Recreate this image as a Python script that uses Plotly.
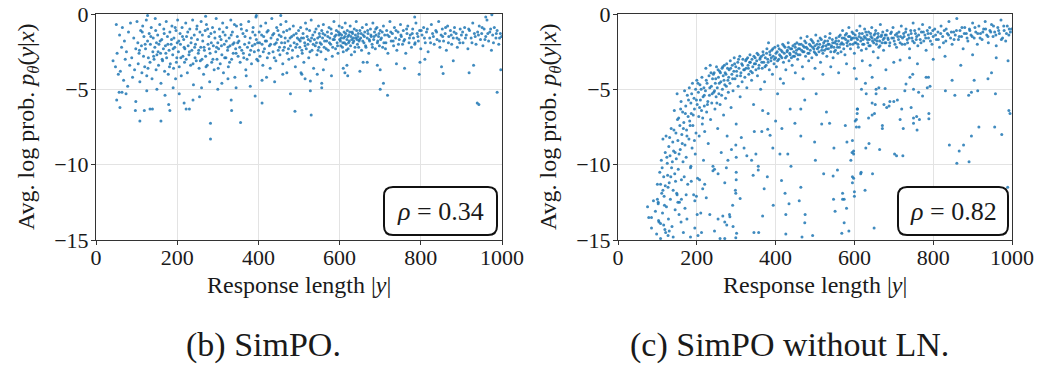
import plotly.graph_objects as go

W, H = 1060, 367

x_ticks = [0, 200, 400, 600, 800, 1000]
y_ticks = [0, -5, -10, -15]
captions = ["(b) SimPO.", "(c) SimPO without LN."]
rho_values = ["0.34", "0.82"]

# ---- Panel (b) SimPO: main band (length, avg log prob) ----
simpo_band = [
(42,-3.1),(48,-3.5),(50,-0.7),(52,-2.6),(55,-4.0),(58,-1.4),(60,-3.8),(63,-2.2),(65,-0.9),(68,-4.4),(70,-1.8),(72,-3.0),(75,-2.5),(78,-4.8),(80,-1.2),(83,-3.4),(85,-0.6),(88,-2.9),(90,-4.2),(93,-1.6),(95,-3.7),(98,-2.3),
(101,-0.5),(103,-1.9),(104,-3.3),(106,-2.6),(108,-4.5),(110,-1.1),(112,-2.1),(113,-3.9),(115,-0.8),(117,-2.8),(118,-1.5),(120,-3.5),(122,-2.3),(124,-0.4),(125,-4.1),(127,-1.8),(129,-2.9),(131,-1.3),(133,-3.2),(134,-2.0),(136,-0.9),(138,-4.3),(140,-2.5),(141,-1.6),(143,-3.0),(145,-2.2),(146,-0.3),(148,-3.7),(149,-1.9),(150,-2.7),
(152,-1.4),(154,-3.4),(155,-2.0),(157,-0.7),(159,-2.6),(160,-4.6),(162,-1.7),(164,-3.1),(166,-2.3),(167,-1.0),(169,-3.8),(171,-2.1),(173,-0.5),(174,-2.9),(176,-1.5),(178,-4.0),(180,-2.4),(182,-1.2),(183,-3.3),(185,-2.0),(187,-0.8),(189,-2.7),(191,-3.6),(192,-1.6),(194,-2.2),(196,-4.3),(197,-1.1),(199,-2.9),(200,-1.9),(201,-0.4),
(203,-2.5),(205,-3.5),(207,-1.3),(208,-2.0),(210,-4.1),(212,-0.9),(214,-2.8),(216,-1.7),(218,-3.2),(219,-2.3),(221,-0.6),(223,-1.5),(225,-3.9),(227,-2.1),(229,-2.7),(231,-1.0),(233,-3.4),(234,-1.9),(236,-2.4),(238,-0.4),(240,-4.7),(242,-1.4),(244,-2.9),(245,-2.0),(247,-3.1),(249,-0.8),(250,-1.7),
(252,-2.6),(254,-3.6),(256,-1.2),(258,-2.2),(259,-0.5),(261,-3.0),(263,-1.8),(265,-4.0),(267,-2.4),(269,-1.1),(270,-2.8),(272,-0.7),(274,-3.4),(276,-2.0),(278,-1.5),(280,-4.5),(281,-2.6),(283,-1.3),(285,-3.2),(287,-0.9),(289,-2.1),(291,-3.7),(293,-1.6),(295,-2.5),(296,-0.3),(298,-3.0),(300,-1.9),
(302,-2.3),(304,-1.0),(306,-3.3),(308,-1.7),(310,-2.7),(312,-0.6),(314,-3.9),(316,-2.0),(318,-1.4),(320,-2.9),(322,-0.9),(324,-2.4),(326,-3.5),(328,-1.6),(330,-2.1),(332,-0.4),(334,-3.0),(336,-1.2),(338,-2.6),(340,-1.9),(342,-4.2),(344,-2.3),(346,-0.8),(348,-1.5),(350,-2.8),
(352,-1.8),(355,-3.2),(357,-0.7),(359,-2.4),(362,-1.3),(364,-2.9),(366,-2.0),(369,-3.7),(371,-1.1),(373,-2.2),(376,-0.5),(378,-2.7),(380,-1.6),(383,-3.3),(385,-2.1),(387,-0.9),(390,-2.5),(392,-1.4),(394,-0.2),(396,-3.0),(398,-1.9),(400,-2.4),
(402,-1.2),(404,-2.8),(406,-0.8),(409,-2.0),(411,-3.4),(413,-1.5),(415,-2.3),(418,-0.6),(420,-1.8),(422,-2.9),(424,-1.1),(427,-2.1),(429,-3.6),(431,-1.6),(433,-0.3),(436,-2.5),(438,-1.3),(440,-2.0),(443,-3.1),(445,-0.9),(447,-1.7),(449,-2.4),
(451,-1.4),(453,-2.7),(455,-0.7),(457,-1.9),(460,-3.3),(462,-1.2),(464,-2.2),(466,-1.6),(468,-0.5),(471,-2.6),(473,-1.8),(475,-3.0),(477,-1.0),(479,-2.1),(482,-1.5),(484,-2.4),(486,-0.8),(488,-1.9),(491,-3.5),(493,-1.3),(495,-2.0),(497,-2.8),(499,-1.1),(500,-1.7),
(502,-2.2),(504,-0.9),(506,-1.6),(508,-2.6),(510,-1.3),(512,-3.2),(514,-1.9),(516,-0.6),(518,-2.3),(520,-1.5),(522,-2.0),(524,-2.9),(526,-1.1),(528,-1.8),(530,-0.4),(532,-2.4),(534,-1.4),(536,-3.6),(538,-1.7),(540,-2.1),(542,-1.0),(544,-2.7),(546,-1.6),(548,-0.8),(549,-2.2),(550,-1.3),
(552,-1.9),(554,-2.5),(556,-1.1),(558,-1.6),(560,-0.7),(562,-2.2),(564,-1.4),(566,-3.0),(568,-1.8),(570,-1.2),(572,-2.4),(574,-0.9),(576,-1.6),(578,-2.0),(580,-1.3),(582,-2.8),(584,-1.7),(586,-0.5),(588,-1.5),(590,-2.3),(592,-1.1),(594,-1.9),(596,-2.6),(598,-1.4),(599,-0.8),(600,-1.7),
(601,-1.3),(603,-2.1),(604,-1.6),(606,-0.9),(608,-1.9),(609,-2.5),(611,-1.2),(613,-1.5),(614,-0.6),(616,-2.0),(618,-1.7),(619,-1.1),(621,-2.3),(623,-1.4),(624,-1.8),(626,-0.8),(628,-1.5),(629,-2.7),(631,-1.2),(633,-1.9),(634,-1.6),(636,-1.0),(638,-2.2),(639,-1.4),(641,-0.5),(643,-1.7),(644,-2.0),(646,-1.3),(648,-1.8),(650,-1.1),
(652,-1.6),(654,-2.4),(656,-0.9),(658,-1.4),(660,-1.9),(662,-1.2),(664,-2.1),(666,-0.7),(668,-1.6),(670,-1.3),(672,-2.6),(674,-1.8),(676,-1.0),(678,-1.5),(680,-2.0),(682,-0.6),(684,-1.7),(686,-1.2),(688,-2.3),(690,-1.4),(692,-0.9),(694,-1.8),(696,-1.5),(698,-2.1),(700,-1.1),
(703,-1.6),(706,-2.2),(708,-0.8),(711,-1.4),(714,-1.9),(716,-1.1),(719,-2.6),(722,-1.5),(724,-0.5),(727,-1.8),(730,-1.3),(733,-2.1),(735,-0.9),(738,-1.6),(741,-2.4),(744,-1.2),(747,-1.7),(750,-0.7),
(752,-1.5),(755,-2.0),(757,-1.1),(760,-1.7),(763,-2.6),(766,-1.3),(768,-0.8),(771,-1.9),(774,-1.4),(777,-2.2),(780,-1.0),(782,-1.6),(785,-2.0),(788,-0.6),(791,-1.3),(794,-1.8),(797,-1.1),(800,-2.3),
(803,-1.4),(807,-0.9),(811,-1.9),(814,-1.2),(818,-2.5),(822,-1.6),(826,-0.7),(829,-1.3),(833,-2.0),(837,-1.1),(840,-1.7),(844,-0.5),(847,-2.2),(850,-1.4),
(853,-1.0),(856,-1.8),(860,-1.3),(863,-2.4),(866,-0.8),(869,-1.5),(873,-1.1),(876,-2.0),(880,-1.6),(883,-0.9),(887,-1.3),(890,-2.2),(894,-1.7),(897,-1.0),(900,-1.4),
(904,-1.9),(908,-0.9),(912,-1.4),(916,-2.3),(920,-1.1),(924,-1.6),(928,-0.6),(932,-1.3),(936,-2.0),(940,-1.2),(944,-0.8),(947,-1.7),(950,-1.3),
(953,-2.1),(956,-1.0),(960,-1.5),(963,-0.4),(967,-1.8),(970,-1.2),(974,-2.4),(977,-1.4),(981,-0.9),(985,-1.6),(988,-1.1),(992,-2.0),(996,-1.3),(999,-1.5),
(127,-0.1),(270,-0.15),(395,-0.1),(455,-0.1),(785,-0.2),(975,-0.05),(960,-0.2),
]

# extra points of the dense SimPO band (irregular positions)
simpo_band_extra = [
(107,-2.4),(114,-1.2),(121,-2.0),(128,-3.6),(135,-1.5),(142,-2.8),(147,-1.1),(153,-2.5),(158,-1.8),(163,-3.0),(168,-1.3),(172,-2.6),(177,-2.0),(181,-3.5),(186,-1.7),(190,-2.3),(195,-0.9),(198,-3.2),(204,-1.8),(209,-2.9),(213,-1.5),(217,-2.2),(222,-3.0),(226,-1.2),(230,-2.5),(235,-1.6),(239,-3.3),(243,-2.2),(248,-1.0),(253,-2.4),(257,-3.1),(262,-1.4),(266,-2.2),(271,-3.5),(275,-1.0),(279,-2.3),(284,-1.9),(288,-3.0),(292,-1.2),(297,-2.2),(301,-3.6),(305,-1.5),(309,-2.1),(313,-1.2),(317,-2.9),(321,-1.8),(325,-2.2),(329,-3.2),(333,-1.4),(337,-2.0),(341,-0.7),(345,-2.6),(349,-1.9),
(354,-2.2),(358,-1.0),(363,-2.6),(367,-1.5),(372,-3.0),(377,-1.9),(381,-2.4),(386,-1.2),(391,-2.0),(395,-1.7),(399,-3.1),(403,-1.9),(408,-1.4),(412,-2.5),(417,-1.8),(421,-1.2),(426,-2.6),(430,-2.0),(435,-1.4),(439,-2.9),(444,-1.9),(448,-1.1),(452,-2.2),(456,-1.5),(461,-2.4),(465,-1.9),(470,-1.1),(474,-2.3),(478,-1.6),(483,-2.9),(487,-1.4),(492,-2.2),(496,-1.6),
(503,-1.8),(507,-2.4),(511,-1.6),(515,-2.1),(519,-1.0),(523,-1.7),(527,-2.5),(531,-1.6),(535,-2.0),(539,-1.2),(543,-1.9),(547,-2.4),(551,-1.5),(555,-2.0),(559,-1.3),(563,-1.8),(567,-2.3),(571,-1.5),(575,-1.9),(579,-1.0),(583,-2.2),(587,-1.7),(591,-1.4),(595,-2.1),(597,-1.2),(602,-1.8),(605,-1.4),(607,-2.2),(610,-1.6),(612,-1.9),(615,-1.3),(617,-2.4),(620,-1.5),(622,-1.9),(625,-1.2),(627,-2.1),(630,-1.7),(632,-1.3),(635,-1.8),(637,-2.5),(640,-1.6),(642,-1.1),(645,-1.5),(647,-2.2),(649,-1.7),(653,-1.3),(657,-1.8),(661,-1.5),(665,-2.2),(669,-1.1),(673,-1.7),(677,-1.4),(681,-2.2),(685,-1.5),(689,-1.0),(693,-1.9),(697,-1.3),(701,-1.7),(705,-1.2),(709,-1.9),(713,-2.3),(718,-1.4),
(726,-1.2),(732,-1.8),(739,-1.1),(745,-2.0),(751,-1.4),(758,-1.8),(765,-1.0),(772,-1.6),(779,-1.3),(786,-1.9),(793,-1.5),(801,-1.1),(809,-1.6),(816,-1.0),(824,-1.9),(831,-1.5),(839,-1.2),(846,-1.8),(854,-1.5),(861,-0.9),(868,-1.9),(875,-1.4),(882,-1.2),(889,-1.6),(896,-1.9),(903,-1.2),(910,-1.6),(918,-1.0),(926,-1.9),(934,-1.5),(942,-1.4),(951,-0.9),(958,-1.7),(965,-1.3),(972,-1.0),(979,-1.9),(986,-1.3),(994,-1.6),
]

# ---- Panel (b) SimPO: scattered low-probability responses ----
simpo_tail = [
(51,-5.7),(59,-6.2),(108,-7.1),(160,-7.1),(282,-7.25),(282,-8.3),(356,-7.2),(334,-6.4),(97,-6.4),(119,-6.4),(133,-6.3),(139,-6.3),
(182,-6.4),(179,-6.0),(222,-6.3),(230,-6.3),(217,-5.9),(239,-5.7),(333,-5.7),(392,-5.45),(409,-5.9),(490,-6.45),(479,-5.3),(409,-4.4),
(57,-5.2),(64,-5.2),(98,-5.8),(74,-5.3),(530,-6.7),(528,-5.1),(556,-4.9),(556,-4.6),(528,-4.45),(700,-5.0),(708,-4.6),(718,-5.4),
(939,-5.9),(943,-6.0),(988,-5.2),(997,-3.7),(650,-3.8),(796,-4.0),(855,-3.95),(919,-3.9),(930,-3.4),(693,-3.4),(658,-3.2),(668,-3.2),
(798,-3.2),(851,-3.5),(613,-3.9),(618,-3.4),(609,-3.6),(545,-4.0),(507,-4.0),(310,-4.6),(325,-4.3),(345,-4.9),(370,-4.1),(380,-4.8),
(420,-4.2),(440,-4.5),(460,-4.0),(470,-3.9),(505,-3.9),(515,-4.3),(560,-3.7),(580,-4.1),(620,-4.1),(700,-3.7),(740,-3.3),(760,-3.6),
(810,-3.0),(880,-3.1),(150,-5.0),(190,-4.9),(205,-5.3),(260,-4.9),(125,-5.1),(170,-5.4),(300,-5.0),(255,-5.5),
]

# ---- Panel (c) SimPO without LN: main curved band ----
noln_band = [
(75,-12.8),(78,-13.5),(85,-14.2),(90,-12.4),(95,-13.1),(98,-14.6),(100,-11.3),(102,-12.6),(104,-13.8),(106,-10.5),(108,-14.9),(110,-9.7),(111,-11.9),(113,-13.2),(114,-8.3),(116,-10.8),(117,-12.1),(119,-14.3),(120,-9.2),(120,-11.4),
(122,-8.1),(123,-12.8),(125,-9.9),(126,-10.7),(128,-13.6),(129,-8.8),(130,-11.2),(132,-9.4),(133,-12.3),(135,-7.6),(136,-10.2),(137,-14.1),(139,-8.5),(140,-11.7),(141,-9.1),(143,-6.4),(144,-10.6),(145,-13.0),(147,-7.9),(148,-9.6),(149,-11.9),(150,-5.3),(152,-8.4),(153,-10.3),(154,-6.9),(156,-12.5),(157,-7.4),(158,-9.0),(160,-5.8),(161,-11.0),(162,-8.0),(164,-6.5),(165,-9.8),(166,-14.5),(167,-7.2),(168,-10.8),(169,-5.1),(170,-8.7),(170,-12.9),(160,-13.8),
(172,-6.1),(173,-9.5),(174,-7.7),(176,-5.4),(177,-11.3),(178,-6.8),(180,-8.3),(181,-4.9),(182,-7.1),(184,-10.2),(185,-5.9),(186,-6.6),(188,-8.9),(189,-4.6),(190,-7.4),(192,-12.0),(193,-5.6),(194,-6.3),(196,-9.3),(197,-5.0),(198,-7.9),(200,-4.4),(201,-6.0),(202,-10.9),(204,-5.2),(205,-6.8),(206,-8.1),(208,-4.7),(209,-5.7),(210,-13.2),(212,-6.4),(213,-4.2),(214,-7.3),(216,-5.5),(217,-9.7),(218,-4.9),(219,-6.1),(220,-7.8),(195,-14.2),(215,-11.6),
(222,-5.1),(223,-3.6),(225,-6.5),(226,-4.6),(228,-5.8),(229,-8.6),(231,-4.1),(232,-5.4),(234,-3.4),(235,-7.0),(237,-4.8),(238,-5.9),(240,-4.3),(241,-10.1),(243,-5.2),(244,-3.9),(246,-6.3),(247,-4.6),(249,-5.5),(250,-3.5),(252,-4.9),(253,-7.6),(255,-4.2),(256,-5.3),(258,-3.8),(259,-6.0),(261,-4.5),(262,-9.2),(264,-3.6),(265,-5.0),(267,-4.1),(268,-6.7),(270,-3.4),(271,-4.7),(273,-5.6),(274,-4.0),(276,-3.3),(277,-8.1),(279,-4.4),(280,-5.2),
(282,-3.7),(284,-4.6),(285,-3.1),(287,-6.2),(289,-4.0),(290,-3.4),(292,-5.1),(294,-3.8),(295,-2.9),(297,-4.3),(299,-3.5),(300,-7.3),(302,-4.1),(304,-3.2),(305,-4.8),(307,-3.6),(309,-2.8),(310,-5.5),(312,-3.9),(314,-3.3),(315,-4.5),(317,-3.0),(319,-3.7),(320,-8.9),(322,-4.2),(324,-3.1),(325,-3.6),(327,-4.9),(329,-2.9),(330,-3.4),(332,-4.0),(334,-3.2),(335,-2.7),(337,-3.8),(339,-4.4),(340,-3.0),(342,-3.5),(344,-6.0),(346,-3.3),(348,-2.9),(350,-3.7),
(352,-3.1),(354,-4.1),(356,-2.7),(358,-3.4),(360,-3.0),(362,-5.0),(364,-2.8),(366,-3.6),(368,-2.5),(370,-3.2),(372,-4.5),(374,-2.9),(376,-3.4),(378,-2.3),(380,-3.0),(382,-1.9),(384,-3.7),(386,-2.7),(388,-3.1),(390,-2.4),(392,-4.0),(394,-2.8),(396,-3.3),(398,-2.2),(400,-2.9),(402,-3.5),(404,-2.5),(406,-2.1),(408,-3.0),(410,-2.7),(412,-4.3),(414,-2.4),(416,-2.9),(418,-2.0),(420,-3.2),(422,-2.6),(424,-2.2),(426,-3.7),(428,-2.8),(430,-2.4),(432,-1.9),(434,-3.1),(436,-2.6),(438,-2.3),(440,-2.9),(442,-3.4),(444,-2.1),(446,-2.5),(448,-2.8),(450,-2.2),
(452,-2.6),(454,-1.9),(456,-3.0),(458,-2.3),(460,-2.0),(462,-2.7),(464,-1.6),(466,-2.4),(468,-3.5),(470,-2.1),(472,-2.5),(474,-1.8),(476,-2.8),(478,-2.2),(480,-1.5),(482,-2.6),(484,-3.1),(486,-2.0),(488,-2.4),(490,-1.7),(492,-2.9),(494,-2.2),(496,-1.9),(498,-2.5),(500,-2.1),(502,-1.4),(504,-2.7),(506,-2.3),(508,-1.8),(510,-2.5),(512,-2.0),(514,-3.2),(516,-1.7),(518,-2.2),(520,-2.6),(522,-1.9),(524,-2.4),(526,-1.5),(528,-2.1),(530,-2.8),(532,-1.8),(534,-2.3),(536,-2.0),(538,-1.3),(540,-2.5),(542,-2.1),(544,-1.7),(546,-2.9),(548,-2.2),(550,-1.9),(552,-2.4),(554,-1.6),(556,-2.0),(558,-2.6),
(560,-1.8),(562,-2.2),(564,-1.4),(566,-2.5),(568,-1.9),(570,-1.1),(572,-2.0),(574,-1.6),(576,-2.7),(578,-1.7),(580,-1.3),(582,-2.1),(584,-1.8),(586,-0.9),(588,-1.5),(590,-2.3),(592,-1.7),(594,-1.2),(596,-2.0),(598,-1.6),(600,-2.6),(602,-1.4),(604,-1.9),(606,-1.1),(608,-1.7),(610,-2.2),(612,-1.5),(614,-0.8),(616,-1.8),(618,-2.4),(620,-1.3),(622,-1.7),(624,-2.0),(626,-1.0),(628,-1.6),(630,-2.3),(632,-1.4),(634,-1.9),(636,-1.2),(638,-1.7),(640,-2.1),(642,-1.5),(644,-0.9),(646,-1.8),(648,-2.5),(650,-1.4),(652,-1.7),(654,-1.1),(656,-2.0),(658,-1.6),(660,-1.3),(662,-2.2),(664,-1.8),(666,-0.7),(668,-1.5),(670,-1.9),(672,-1.2),(674,-2.4),(676,-1.6),(678,-1.4),(680,-1.9),(683,-1.1),(686,-1.7),(689,-2.1),(692,-1.3),(695,-1.6),(698,-0.9),(701,-1.8),(704,-1.4),(707,-2.2),(710,-1.5),(713,-1.2),(716,-1.9),(719,-0.8),
(722,-1.6),(725,-1.3),(728,-2.0),(731,-1.0),(734,-1.7),(737,-1.4),(740,-2.3),(743,-1.1),(746,-1.6),(749,-0.6),(752,-1.9),(755,-1.3),(758,-1.5),(761,-2.1),(764,-1.0),(767,-1.7),(770,-1.2),(773,-0.7),(776,-1.8),(779,-1.4),(782,-2.4),(785,-1.1),(788,-1.6),(791,-0.9),(794,-1.3),(797,-2.0),(800,-1.5),(804,-1.0),(808,-1.7),(812,-1.2),(816,-2.2),(820,-0.8),(824,-1.5),(828,-1.1),(832,-1.8),(836,-1.3),(840,-0.5),(844,-1.6),(848,-2.0),(852,-1.2),(856,-1.4),(860,-0.3),(864,-1.7),(868,-1.1),(872,-1.5),(876,-2.3),(880,-0.9),(884,-1.3),(888,-1.8),(892,-1.0),(896,-1.4),(900,-0.6),(904,-1.6),(908,-1.2),(912,-2.0),(916,-0.8),(920,-1.3),(924,-1.7),(928,-1.0),(932,-0.5),(936,-1.4),(940,-1.9),(944,-1.1),(948,-0.7),(952,-1.5),(956,-1.2),(960,-2.1),(964,-0.9),(968,-1.3),(972,-0.4),(976,-1.6),(980,-1.1),(984,-1.8),(988,-0.8),(992,-1.4),(996,-1.2),(999,-1.0),
]

# extra points of the dense no-LN band (irregular positions)
noln_band_extra = [
(112,-10.2),(118,-12.7),(124,-9.5),(127,-11.5),(131,-8.2),(134,-10.8),(138,-9.8),(142,-7.7),(146,-11.1),(151,-7.0),(155,-9.3),(159,-6.3),(163,-8.6),(166,-7.6),(171,-6.6),(175,-8.1),(179,-5.7),(183,-7.4),(187,-5.3),(191,-6.7),(194,-8.4),(199,-5.7),(203,-4.6),(207,-6.2),(211,-5.0),(215,-6.9),(219,-5.4),(224,-4.4),(227,-6.0),
(233,-4.9),(236,-3.9),(239,-5.3),(242,-4.0),(245,-5.1),(248,-4.3),(251,-5.9),(254,-3.7),(257,-4.6),(260,-3.9),(263,-5.4),(266,-3.5),(269,-4.4),(272,-3.9),(275,-4.8),(278,-3.6),(281,-4.2),(286,-3.6),(291,-4.3),(296,-3.3),(301,-3.8),(306,-3.0),(311,-4.1),(316,-3.4),(321,-3.7),(326,-3.0),(331,-3.6),(336,-3.2),(341,-3.9),(345,-2.8),(349,-3.3),(353,-2.6),(357,-3.6),(361,-2.9),(365,-3.2),(369,-2.7),(373,-3.5),(377,-2.6),(381,-3.2),(385,-2.5),(389,-2.9),(393,-2.3),(397,-3.0),
(401,-2.6),(405,-3.1),(409,-2.3),(413,-2.8),(417,-2.5),(421,-2.1),(425,-2.9),(429,-2.5),(433,-2.2),(437,-2.7),(441,-2.3),(445,-2.8),(449,-2.0),(453,-2.4),(457,-2.7),(461,-2.3),(465,-2.0),(469,-2.5),(473,-2.2),(477,-1.9),(481,-2.3),(485,-2.6),(489,-2.1),(493,-1.8),(497,-2.3),(501,-2.6),(505,-2.0),(509,-2.2),(513,-1.6),(517,-2.4),(521,-2.1),(525,-1.8),(529,-2.3),(533,-2.0),(537,-1.6),(541,-2.2),(545,-1.9),(549,-2.5),(553,-1.8),(557,-2.2),
(561,-1.5),(565,-2.0),(569,-1.6),(573,-2.3),(577,-1.4),(581,-1.9),(585,-1.5),(589,-2.0),(593,-1.6),(597,-1.3),(601,-1.9),(605,-1.6),(609,-2.0),(613,-1.3),(617,-1.6),(621,-2.0),(625,-1.5),(629,-1.2),(633,-1.7),(637,-2.1),(641,-1.3),(645,-1.6),(649,-1.9),(653,-1.3),(657,-1.8),(661,-1.5),(665,-2.1),(669,-1.4),(673,-1.7),(677,-1.9),(681,-1.4),(685,-1.6),(690,-1.9),(694,-1.2),(699,-1.6),(703,-2.0),(708,-1.3),(712,-1.7),(717,-1.5),(721,-2.0),(726,-1.5),(730,-1.2),(735,-1.9),(739,-1.6),(744,-1.3),(748,-1.8),(753,-1.1),(757,-1.7),
(763,-1.4),(769,-1.9),(775,-1.2),(781,-1.6),(787,-1.3),(793,-1.8),(799,-1.1),(806,-1.4),(813,-1.7),(819,-1.3),(826,-1.9),(833,-1.0),(839,-1.4),(846,-1.2),(853,-1.7),(859,-1.1),(866,-1.5),(873,-0.9),(879,-1.3),(886,-1.6),(893,-1.1),(899,-1.5),(906,-0.9),(913,-1.3),(919,-1.6),(926,-1.2),(933,-1.0),(939,-1.5),(946,-1.2),(953,-0.8),(959,-1.4),(966,-1.1),(973,-1.7),(979,-0.8),(986,-1.3),(993,-1.0),
]

# ---- Panel (c) SimPO without LN: sparse points below the band ----
noln_tail = [
(503,-5.3),(474,-5.7),(437,-6.3),(464,-6.3),(529,-6.5),(608,-6.3),(449,-7.25),(416,-7.6),(517,-7.3),(537,-7.25),(577,-7.4),(602,-7.1),
(386,-8.05),(464,-8.1),(499,-8.5),(581,-8.5),(393,-8.9),(431,-9.3),(501,-9.7),(548,-8.9),(594,-9.2),(439,-10.1),(522,-10.6),(546,-10.75),
(557,-10.35),(598,-10.9),(379,-10.8),(415,-11.05),(464,-11.5),(371,-11.6),(424,-11.9),(460,-12.4),(574,-12.3),(394,-12.7),(434,-12.6),
(475,-13.3),(600,-11.8),(600,-12.1),(580,-12.9),(426,-13.3),(367,-13.4),(474,-13.85),(574,-13.85),(426,-14.6),(467,-14.8),(494,-14.7),
(568,-14.55),(586,-14.4),(345,-14.5),(357,-14.5),(299,-14.85),(259,-14.9),(271,-14.9),(405,-5.3),(380,-7.65),(400,-7.1),(411,-9.3),
(339,-9.7),(356,-10.1),(356,-10.35),(343,-10.7),(310,-12.25),(299,-11.9),(291,-12.7),(284,-13.45),(266,-13.4),(276,-14.0),(301,-14.55),
(327,-9.4),(313,-8.2),(299,-8.7),(381,-6.6),(367,-6.4),(365,-7.8),(346,-7.8),(350,-9.3),
(605,-4.3),(628,-4.6),(618,-5.0),(630,-5.3),(655,-5.3),(678,-4.95),(728,-5.1),(750,-5.0),(763,-5.2),(773,-5.45),(782,-4.2),(748,-4.0),
(731,-4.65),(831,-5.1),(848,-4.4),(904,-4.4),(913,-5.1),(939,-4.3),(958,-5.3),(890,-5.4),(992,-6.4),(956,-7.5),(897,-8.1),(877,-8.7),
(866,-9.1),(891,-9.8),(789,-6.6),(789,-6.95),(765,-7.0),(750,-6.9),(750,-7.25),(759,-7.7),(720,-6.3),(744,-6.2),(671,-7.4),(671,-7.6),
(651,-6.6),(645,-6.7),(645,-5.9),(653,-6.0),(636,-6.9),(607,-6.3),(607,-6.6),(605,-7.0),(605,-7.5),(612,-7.5),(595,-8.4),(629,-8.9),
(637,-8.6),(664,-9.0),(723,-9.4),(598,-9.1),(598,-9.3),(646,-10.6),(617,-10.5),(595,-10.8),(595,-11.2),(591,-9.7),(675,-6.0),(682,-6.2),
(688,-6.1),(690,-5.8),(700,-5.8),(709,-5.7),(662,-4.9),(655,-5.0),(645,-4.2),
(85,-13.5),(108,-11.3),(114,-11.7),(100,-12.3),(102,-12.5),(103,-13.7),(108,-13.9),(116,-14.0),(121,-14.5),(127,-14.7),(199,-12.1),
(195,-12.4),(201,-13.3),(224,-12.2),(233,-13.3),(245,-14.4),(254,-13.6),(271,-13.8),(283,-13.3),(292,-14.1),(298,-11.7),(300,-11.0),
(300,-10.5),(271,-11.2),(254,-10.6),(245,-10.3),(241,-10.4),(275,-10.2),(279,-9.7),(300,-9.5),(288,-9.0),(212,-14.5),(203,-14.7),
(184,-14.8),(161,-12.3),(152,-12.5),(173,-12.0),(186,-11.1),(207,-11.0),(220,-11.3),(140,-14.8),(130,-14.4),(155,-13.3),(175,-13.6),
(185,-10.1),(150,-12.0),(145,-9.2),
(995,-6.6),(974,-8.0),(860,-9.9),(841,-8.7),(916,-7.5),(855,-5.4),(897,-5.2),(948,-3.9),(989,-11.5),(707,-9.4),(702,-9.3),(650,-14.2),
(627,-11.7),(616,-10.6),(570,-11.9),(570,-12.3),(547,-12.3),(551,-13.1),(716,-7.0),(724,-7.6),(758,-6.8),(785,-4.9),(792,-4.8),
(788,-4.2),(741,-4.2),(716,-3.05),
(420,-4.6),(450,-3.9),(470,-4.3),(500,-3.6),(520,-4.0),(540,-3.5),(560,-3.9),(580,-3.3),(600,-3.6),(620,-3.1),(640,-3.4),(660,-2.9),
(680,-3.7),(700,-3.2),(740,-2.9),(760,-3.3),(800,-3.0),(830,-2.8),(870,-3.4),(900,-2.7),(960,-2.9),(990,-3.1),
]

panels = [simpo_band + simpo_band_extra + simpo_tail,
          noln_band + noln_band_extra + noln_tail]

# ---- layout geometry (pixels) ----
plot_boxes = [(96, 502), (618, 1012)]   # left/right of each plot area
top_px, bot_px = 14, 240
legend_boxes = [(384, 497, 187, 235), (898, 1008, 187, 235)]
caption_cx = [263, 790]

def px_x(p):
    return p / W

def px_y(p):
    return 1 - p / H

fig = go.Figure()
FONT = "Liberation Serif, Times New Roman, serif"
BLUE = "#1f77b4"
TXT = "#1a1a1a"

def ann(x, y, text, size, **kw):
    fig.add_annotation(x=px_x(x), y=px_y(y), xref="paper", yref="paper",
                       xanchor="center", yanchor="middle", text=text, showarrow=False,
                       font=dict(family=FONT, size=size, color=TXT), **kw)

for i, pts in enumerate(panels):
    xs = [p[0] for p in pts]
    ys = [p[1] for p in pts]
    ax = "" if i == 0 else str(i + 1)
    fig.add_trace(go.Scatter(
        x=xs, y=ys, mode="markers",
        marker=dict(color=BLUE, size=3.0, opacity=0.85, line=dict(width=0)),
        xaxis="x" + ax, yaxis="y" + ax, showlegend=False, hoverinfo="skip"))
    l, r = plot_boxes[i]
    axis_common = dict(
        showline=True, linecolor="#333333", linewidth=1, mirror=True,
        ticks="outside", ticklen=4, tickcolor="#333333", tickwidth=1,
        showgrid=True, gridcolor="#e3e3e3", gridwidth=1, zeroline=False,
        automargin=False,
        tickfont=dict(family=FONT, size=22, color=TXT),
    )
    fig.update_layout(**{
        "xaxis" + ax: dict(domain=[px_x(l), px_x(r)], range=[0, 1000],
                           tickvals=x_ticks, anchor="y" + ax, ticklabelstandoff=-6,
                           **axis_common),
        "yaxis" + ax: dict(domain=[px_y(bot_px), px_y(top_px)], range=[-15, 0],
                           tickvals=y_ticks, anchor="x" + ax, ticklabelstandoff=-2,
                           **axis_common),
    })
    cx = (l + r) / 2
    ann(cx, 285, "Response length |<i>y</i>|", 24)
    ann(l - 68, (top_px + bot_px) / 2,
        "Avg. log prob. <i>p</i><sub><i>θ</i></sub>(<i>y</i>|<i>x</i>)", 24, textangle=-90)
    ann(caption_cx[i], 345, captions[i], 34)
    # rounded legend box with rho
    bx0, bx1, by0, by1 = legend_boxes[i]
    rad = 9
    path = (f"M {px_x(bx0 + rad)},{px_y(by0)} L {px_x(bx1 - rad)},{px_y(by0)} "
            f"Q {px_x(bx1)},{px_y(by0)} {px_x(bx1)},{px_y(by0 + rad)} "
            f"L {px_x(bx1)},{px_y(by1 - rad)} Q {px_x(bx1)},{px_y(by1)} {px_x(bx1 - rad)},{px_y(by1)} "
            f"L {px_x(bx0 + rad)},{px_y(by1)} Q {px_x(bx0)},{px_y(by1)} {px_x(bx0)},{px_y(by1 - rad)} "
            f"L {px_x(bx0)},{px_y(by0 + rad)} Q {px_x(bx0)},{px_y(by0)} {px_x(bx0 + rad)},{px_y(by0)} Z")
    fig.add_shape(type="path", path=path, xref="paper", yref="paper",
                  line=dict(color="#111111", width=2), fillcolor="white", layer="above")
    ann((bx0 + bx1) / 2, (by0 + by1) / 2, f"<i>ρ</i> = {rho_values[i]}", 26)

fig.update_layout(template="none", width=W, height=H, margin=dict(l=0, r=0, t=0, b=0),
                  paper_bgcolor="white", plot_bgcolor="white", showlegend=False)

fig.write_html("out.html", config={"displayModeBar": False},
               post_script="document.body.style.margin='0px';")
